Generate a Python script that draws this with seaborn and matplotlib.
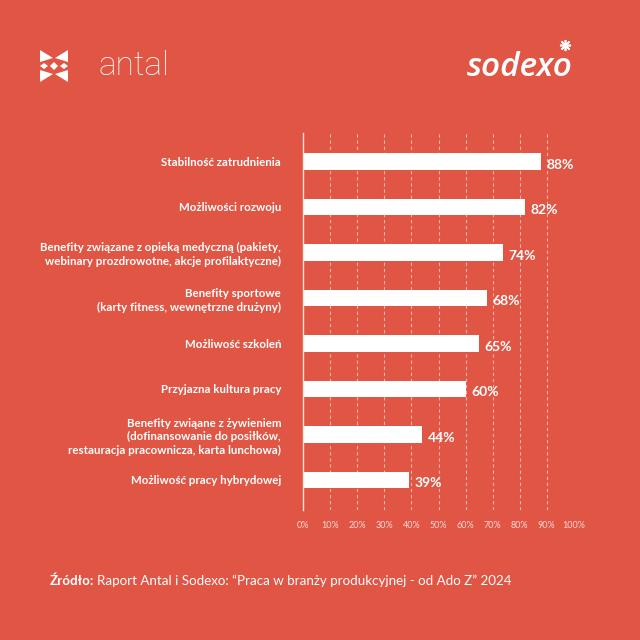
import matplotlib
matplotlib.use("Agg")
from matplotlib import pyplot as plt
from matplotlib.patches import Polygon
from matplotlib.lines import Line2D
import pandas as pd
import seaborn as sns

# data
categories = [
    "Stabilność zatrudnienia",
    "Możliwości rozwoju",
    "Benefity związane z opieką medyczną (pakiety,\nwebinary prozdrowotne, akcje profilaktyczne)",
    "Benefity sportowe\n(karty fitness, wewnętrzne drużyny)",
    "Możliwość szkoleń",
    "Przyjazna kultura pracy",
    "Benefity zwiąane z żywieniem\n(dofinansowanie do posiłków,\nrestauracja pracownicza, karta lunchowa)",
    "Możliwość pracy hybrydowej",
]
values = [88, 82, 74, 68, 65, 60, 44, 39]
ticks = [0, 10, 20, 30, 40, 50, 60, 70, 80, 90, 100]
tick_labels = [f"{t}%" for t in ticks]

BG = "#E05544"
FONT = ["Lato", "DejaVu Sans"]

sns.set_theme(style="white")
plt.rcParams["font.family"] = FONT

df = pd.DataFrame({"cat": categories, "val": values})

fig = plt.figure(figsize=(6.4, 6.4), dpi=100, facecolor=BG)
ax = fig.add_axes([303.3 / 640, 130 / 640, 270.4 / 640, 377 / 640])
ax.set_facecolor(BG)

sns.barplot(data=df, x="val", y="cat", color="white", saturation=1,
            width=0.37, edgecolor="none", ax=ax, orient="h")

ax.set_xlim(0, 100)
ax.set_ylim(7.66, -0.626)
ax.set_xticks(ticks)
ax.set_xticklabels(tick_labels, fontsize=6.5, color="#FBD9D4")
ax.set_yticks(range(len(categories)))
ax.set_yticklabels(categories, fontsize=8.3, fontweight="bold", color="white",
                   linespacing=1.3, ha="right")
ax.tick_params(axis="x", length=0, pad=8)
ax.tick_params(axis="y", length=0, pad=16)
ax.set_xlabel("")
ax.set_ylabel("")

for t in ticks[1:]:
    ax.axvline(t, color="white", alpha=0.55, lw=0.8, ls=(0, (3, 2.5)), zorder=0)

for s in ["top", "right", "bottom"]:
    ax.spines[s].set_visible(False)
ax.spines["left"].set_color("#FBE3DF")
ax.spines["left"].set_linewidth(1.0)

for i, v in enumerate(values):
    ax.text(v + 2.0, i + 0.07, f"{v}%", va="center", ha="left",
            fontsize=10, fontweight="bold", color="white")

# antal logo
W = 640.0
def P(x, y):
    return (x / W, 1 - y / W)

shapes = [
    [P(40, 50), P(53, 58), P(40, 62)],
    [P(40, 82), P(53, 74), P(40, 70)],
    [P(68, 50), P(55, 58), P(68, 62)],
    [P(68, 82), P(55, 74), P(68, 70)],
    [P(40, 66), P(44, 63), P(48, 66), P(44, 69)],
    [P(50, 66), P(54, 62), P(58, 66), P(54, 70)],
    [P(60, 66), P(64, 63), P(68, 66), P(64, 69)],
]
for s in shapes:
    fig.add_artist(Polygon(s, closed=True, facecolor="white", edgecolor="none",
                           transform=fig.transFigure))
fig.text(99 / W, 1 - 66 / W, "antal", fontsize=24, fontweight="light",
         color="white", va="center", ha="left", family=["Roboto", "DejaVu Sans"])

# sodexo logo
fig.text(467 / W, 1 - 67 / W, "sodexo", fontsize=24, fontweight="semibold",
         style="italic", color="white", va="center", ha="left",
         family=["Open Sans", "DejaVu Sans"])
fig.add_artist(Line2D([565 / W], [1 - 45 / W], marker=(8, 2, 0), markersize=8,
                      color="white", markeredgewidth=1.2, transform=fig.transFigure))

# footer
t1 = fig.text(50 / W, 1 - 581 / W, "Źródło:", fontsize=9.6, fontweight="bold",
              color="white", va="center", ha="left")
fig.canvas.draw()
bb = t1.get_window_extent()
fig.text(bb.x1 / W + 3 / W, 1 - 581 / W,
         "Raport Antal i Sodexo: \u201cPraca w branży produkcyjnej - od Ado Z\u201d 2024",
         fontsize=9.6, color="white", va="center", ha="left")

fig.savefig("out.png", dpi=100, facecolor=BG)
